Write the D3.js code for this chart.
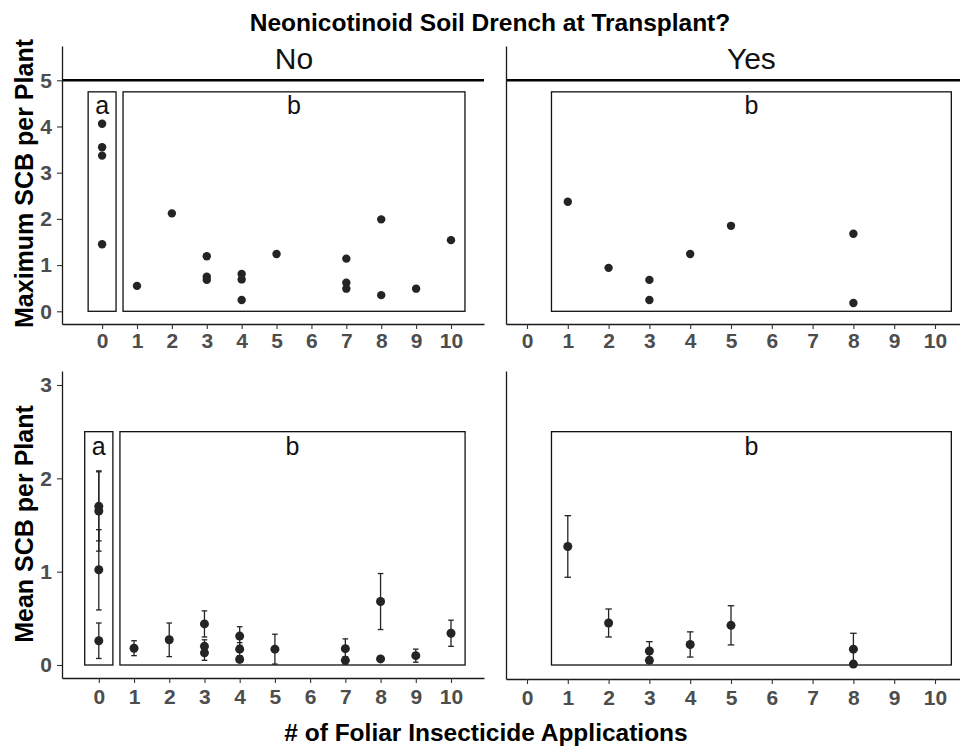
<!DOCTYPE html>
<html>
<head>
<meta charset="utf-8">
<script src="https://cdn.jsdelivr.net/npm/d3@7"></script>
<style>
  html, body { margin: 0; padding: 0; background: #ffffff; }
  svg { display: block; }
  text { font-family: "Liberation Sans", Arial, sans-serif; }
</style>
</head>
<body>
<svg id="chart" width="960" height="746"></svg>
<script>
// ---------------- DATA ----------------
const chartTitle = "Neonicotinoid Soil Drench at Transplant?";
const xTitle = "# of Foliar Insecticide Applications";
const yTitleTop = "Maximum SCB per Plant";
const yTitleBottom = "Mean SCB per Plant";
const drenchLabels = ["No", "Yes"];

const xTicks = [0, 1, 2, 3, 4, 5, 6, 7, 8, 9, 10];
const yTicksMax = [0, 1, 2, 3, 4, 5];
const yTicksMean = [0, 1, 2, 3];

// Maximum SCB per plant, no drench
const maxNoApps   = [0, 0, 0, 0, 1, 2, 3, 3, 3, 4, 4, 4, 5, 7, 7, 7, 8, 8, 9, 10];
const maxNoValues = [4.06, 3.55, 3.37, 1.45, 0.55, 2.12, 1.19, 0.75, 0.68, 0.81, 0.69, 0.245, 1.24, 1.14, 0.62, 0.49, 1.99, 0.35, 0.49, 1.54];
// Maximum SCB per plant, drench
const maxYesApps   = [1, 2, 3, 3, 4, 5, 8, 8];
const maxYesValues = [2.37, 0.94, 0.68, 0.245, 1.24, 1.85, 1.68, 0.18];

// Mean SCB per plant (+/- SE), no drench
const meanNoApps   = [0, 0, 0, 0, 1, 2, 3, 3, 3, 4, 4, 4, 5, 7, 7, 8, 8, 9, 10];
const meanNoValues = [1.70, 1.65, 1.02, 0.26, 0.18, 0.27, 0.44, 0.20, 0.13, 0.31, 0.17, 0.06, 0.17, 0.175, 0.05, 0.68, 0.065, 0.10, 0.34];
const meanNoSE     = [0.37, 0.43, 0.43, 0.19, 0.08, 0.18, 0.14, 0.07, 0.08, 0.10, 0.07, 0.03, 0.16, 0.105, 0.04, 0.30, 0.0, 0.07, 0.14];
// Mean SCB per plant (+/- SE), drench
const meanYesApps   = [1, 2, 3, 3, 4, 5, 8, 8];
const meanYesValues = [1.27, 0.45, 0.15, 0.05, 0.22, 0.425, 0.17, 0.01];
const meanYesSE     = [0.33, 0.15, 0.10, 0.03, 0.135, 0.21, 0.17, 0.01];

// significance groups (letter, x-extent of box)
const groupLettersNo  = ["a", "b"];
const groupXminNo     = [-0.4, 0.6];
const groupXmaxNo     = [0.4, 10.4];
const groupLettersYes = ["b"];
const groupXminYes    = [0.6];
const groupXmaxYes    = [10.4];
const boxTopMax  = 4.75;
const boxTopMean = 2.5;
const facetLineValue = 5;

// ---------------- LAYOUT ----------------
const svg = d3.select("#chart");
const FONT = '"Liberation Sans", Arial, sans-serif';

const panels = [
  { key: "maxNo",  left: 62,  right: 484, top: 46,  bottom: 324, x0: 102.1, x10: 451,  y0: 311.3, yTopVal: 5, yTopPx: 80.3, yTicks: yTicksMax, showY: true,
    apps: maxNoApps, vals: maxNoValues, se: null, letters: groupLettersNo, gmin: groupXminNo, gmax: groupXmaxNo, boxTop: boxTopMax, facet: drenchLabels[0] },
  { key: "maxYes", left: 506, right: 960, top: 46,  bottom: 324, x0: 527,   x10: 935,  y0: 311.3, yTopVal: 5, yTopPx: 80.3, yTicks: yTicksMax, showY: false,
    apps: maxYesApps, vals: maxYesValues, se: null, letters: groupLettersYes, gmin: groupXminYes, gmax: groupXmaxYes, boxTop: boxTopMax, facet: drenchLabels[1] },
  { key: "meanNo", left: 62,  right: 484, top: 371, bottom: 678, x0: 98.8,  x10: 451,  y0: 665,   yTopVal: 3, yTopPx: 385,  yTicks: yTicksMean, showY: true,
    apps: meanNoApps, vals: meanNoValues, se: meanNoSE, letters: groupLettersNo, gmin: groupXminNo, gmax: groupXmaxNo, boxTop: boxTopMean, facet: null },
  { key: "meanYes", left: 506, right: 960, top: 371, bottom: 679, x0: 527,  x10: 935,  y0: 665,   yTopVal: 3, yTopPx: 385,  yTicks: yTicksMean, showY: false,
    apps: meanYesApps, vals: meanYesValues, se: meanYesSE, letters: groupLettersYes, gmin: groupXminYes, gmax: groupXmaxYes, boxTop: boxTopMean, facet: null }
];

const pointColor = "#242424";

panels.forEach(p => {
  const xa = d3.scaleLinear().domain([0, 10]).range([p.x0, p.x10]);
  const ya = d3.scaleLinear().domain([0, p.yTopVal]).range([p.y0, p.yTopPx]);
  const x = d3.scaleLinear().domain([xa.invert(p.left), xa.invert(p.right)]).range([p.left, p.right]);
  const y = d3.scaleLinear().domain([ya.invert(p.bottom), ya.invert(p.top)]).range([p.bottom, p.top]);

  const g = svg.append("g").attr("class", p.key);

  g.selectAll("rect.grp").data(p.letters.map((l, i) => ({ l, x0: p.gmin[i], x1: p.gmax[i] })))
    .join("rect").attr("class", "grp")
    .attr("x", d => x(d.x0)).attr("width", d => x(d.x1) - x(d.x0))
    .attr("y", y(p.boxTop)).attr("height", y(0) - y(p.boxTop))
    .attr("fill", "none").attr("stroke", "#111").attr("stroke-width", 1.3);

  const letterBaseline = p.se ? 2.25 : 4.26;
  g.selectAll("text.grp").data(p.letters.map((l, i) => ({ l, cx: (p.gmin[i] + p.gmax[i]) / 2 })))
    .join("text").attr("class", "grp")
    .attr("x", d => x(d.cx)).attr("y", y(letterBaseline))
    .attr("text-anchor", "middle").attr("font-size", 25).attr("fill", "#111")
    .text(d => d.l);

  if (p.facet) {
    g.append("line").attr("x1", p.left).attr("x2", p.right)
      .attr("y1", y(facetLineValue)).attr("y2", y(facetLineValue))
      .attr("stroke", "#000").attr("stroke-width", 2.6);
    g.append("text").attr("x", x(5.5)).attr("y", y(5.24))
      .attr("text-anchor", "middle").attr("font-size", 30).attr("fill", "#111")
      .text(p.facet);
  }

  const pts = p.apps.map((a, i) => ({ a, v: p.vals[i], se: p.se ? p.se[i] : 0 }));

  if (p.se) {
    const capHalf = 0.08;
    const eb = g.selectAll("g.eb").data(pts.filter(d => d.se > 0)).join("g").attr("class", "eb")
      .attr("stroke", pointColor).attr("stroke-width", 1.3);
    eb.append("line").attr("x1", d => x(d.a)).attr("x2", d => x(d.a))
      .attr("y1", d => y(d.v - d.se)).attr("y2", d => y(d.v + d.se));
    eb.append("line").attr("x1", d => x(d.a - capHalf)).attr("x2", d => x(d.a + capHalf))
      .attr("y1", d => y(d.v + d.se)).attr("y2", d => y(d.v + d.se));
    eb.append("line").attr("x1", d => x(d.a - capHalf)).attr("x2", d => x(d.a + capHalf))
      .attr("y1", d => y(d.v - d.se)).attr("y2", d => y(d.v - d.se));
  }

  g.selectAll("circle").data(pts).join("circle")
    .attr("cx", d => x(d.a)).attr("cy", d => y(d.v))
    .attr("r", p.se ? 4.5 : 4.2).attr("fill", pointColor);

  const xAxis = g.append("g").attr("transform", `translate(0,${p.bottom})`)
    .call(d3.axisBottom(x).tickValues(xTicks).tickSize(5).tickSizeOuter(0).tickPadding(p.se ? 6 : 4).tickFormat(d3.format("d")));
  xAxis.select(".domain").attr("stroke", "#1a1a1a").attr("stroke-width", 1.3);
  xAxis.selectAll(".tick line").attr("stroke", "#333").attr("stroke-width", 1.1);
  xAxis.selectAll(".tick text").attr("font-family", FONT).attr("font-size", 21)
    .attr("font-weight", "bold").attr("fill", "#4d4d4d");

  const yAxis = g.append("g").attr("transform", `translate(${p.left},0)`)
    .call(d3.axisLeft(y).tickValues(p.showY ? p.yTicks : []).tickSize(5).tickSizeOuter(0).tickPadding(5).tickFormat(d3.format("d")));
  yAxis.select(".domain").attr("stroke", "#1a1a1a").attr("stroke-width", 1.3);
  yAxis.selectAll(".tick line").attr("stroke", "#333").attr("stroke-width", 1.1);
  yAxis.selectAll(".tick text").attr("font-family", FONT).attr("font-size", 21)
    .attr("font-weight", "bold").attr("fill", "#4d4d4d");
});

svg.append("text").attr("x", 490).attr("y", 30.5).attr("text-anchor", "middle")
  .attr("font-size", 24.5).attr("font-weight", "bold").attr("fill", "#000").text(chartTitle);
svg.append("text").attr("x", 486).attr("y", 741).attr("text-anchor", "middle")
  .attr("font-size", 24.5).attr("font-weight", "bold").attr("fill", "#000").text(xTitle);
svg.append("text").attr("transform", "translate(33,183.5) rotate(-90)").attr("text-anchor", "middle")
  .attr("font-size", 25).attr("font-weight", "bold").attr("fill", "#000").text(yTitleTop);
svg.append("text").attr("transform", "translate(33,524) rotate(-90)").attr("text-anchor", "middle")
  .attr("font-size", 25).attr("font-weight", "bold").attr("fill", "#000").text(yTitleBottom);
</script>
</body>
</html>
